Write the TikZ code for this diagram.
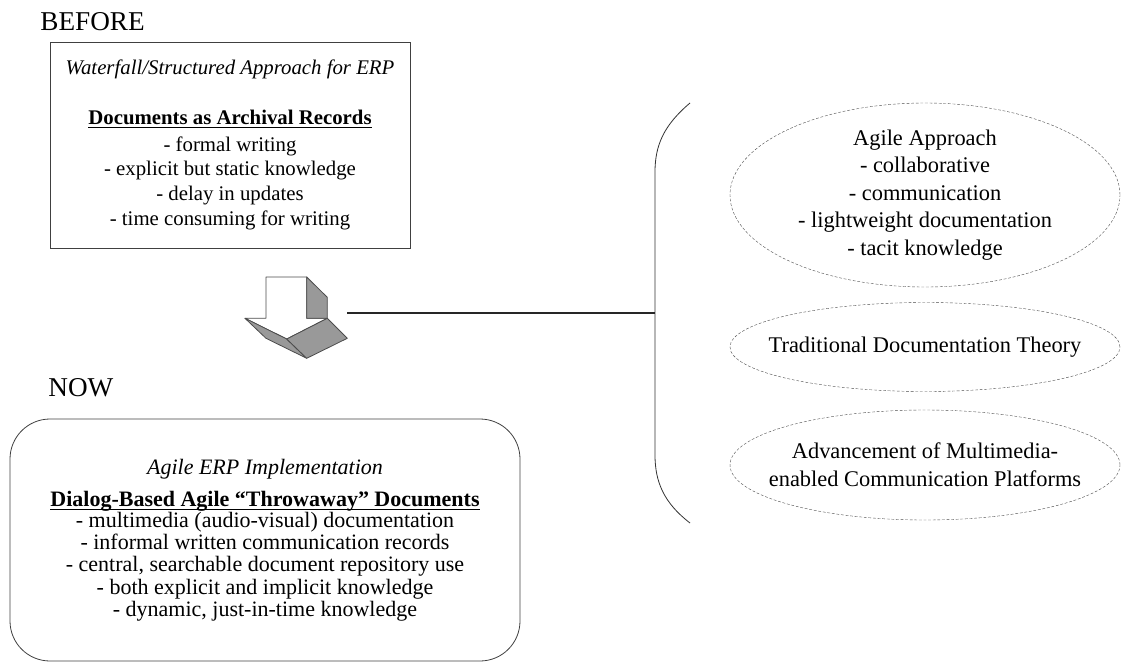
\documentclass[tikz,border=0pt]{standalone}
\usepackage{fontspec}
\setmainfont{Liberation Serif}
\usepackage{tikz}
\usetikzlibrary{shapes.geometric}
\usetikzlibrary{positioning}
% bold heading, underlined through the descenders
\newcommand{\headline}[1]{\underbar{\textbf{#1}}}
\tikzset{
	phase/.style={ % BEFORE / NOW
			anchor=base west,
			inner sep=0pt,
			font=\fontsize{13.6}{15}\selectfont
		},
	oldbox/.style={ % the waterfall box
			draw=black!75,
			thin,
			align=center,
			minimum width=180pt,
			minimum height=103pt,
			font=\fontsize{10.4}{12.35}\selectfont
		},
	newbox/.style={ % the agile box
			draw=black!75,
			thin,
			rounded corners=20pt,
			align=center,
			minimum width=255pt,
			minimum height=121pt,
			font=\fontsize{11}{11.1}\selectfont
		},
	driver/.style={ % dashed ellipses
			ellipse,
			draw=black!70,
			very thin,
			dash pattern=on 1.4pt off 0.9pt,
			align=center,
			inner xsep=-30pt,
			inner ysep=-4pt,
			minimum width=195pt,
			font=\fontsize{11.2}{13.8}\selectfont
		},
	fold/.style={
			draw=black!70,
			thin,
			line join=round
		}
}
\begin{document}
\begin{tikzpicture}[x=0.5pt,y=-0.5pt]
	\useasboundingbox (0,0) rectangle (1125,665);
	% before
	\node[phase] (before) at (40,30) {BEFORE};
	\node[oldbox] (waterfall) at (230,145) {\textit{Waterfall/Structured Approach for ERP}\\[12.35pt]
		\headline{Documents as Archival Records}\\[1pt]
		- formal writing\\
		- explicit but static knowledge\\
		- delay in updates\\
		- time consuming for writing};
	% the folded arrow
	\draw[fold, fill=white] (266,277) -- (306.7,277) -- (306.7,318.3) -- (327.3,318.3)
		-- (286.7,339) -- (245,318.3) -- (266,318.3) -- cycle;
	\draw[fold, fill=black!40] (306.7,277) -- (327.3,297.3) -- (327.3,318.3) -- (306.7,318.3) -- cycle;
	\draw[fold, fill=black!40] (245,318.3) -- (286.7,339) -- (306.7,358.3) -- (266,338.3) -- cycle;
	\draw[fold, fill=black!40] (286.7,339) -- (327.3,318.3) -- (347.3,338.3) -- (306.7,358.3) -- cycle;
	\coordinate (arrowtip) at (347,313);
	% now
	\node[phase] (now) at (48,396) {NOW};
	\node[newbox] (agileerp) at (265,540) {\textit{Agile ERP Implementation}\\[5pt]
		\headline{Dialog-Based Agile “Throwaway” Documents}\\[-0.5pt]
		- multimedia (audio-visual) documentation\\
		- informal written communication records\\
		- central, searchable document repository use\\
		- both explicit and implicit knowledge\\
		- dynamic, just-in-time knowledge};
	% the three drivers
	\node[driver, minimum height=92pt] (agile) at (925,195) {Agile Approach\\
		- collaborative\\
		- communication\\
		- lightweight documentation\\
		- tacit knowledge};
	\node[driver, minimum height=44.5pt] (tradition) at (925,347) {Traditional Documentation Theory};
	\node[driver, minimum height=55pt] (multimedia) at (925,465) {Advancement of Multimedia-\\
		enabled Communication Platforms};
	% brace
	\coordinate (bracemid) at (655,313);
	\draw[black!80, thin] (690,103) .. controls (664,125) and (655,145) .. (655,172)
		-- (655,455) .. controls (655,482) and (664,503) .. (690,523);
	\draw[black!85, semithick] (arrowtip) -- (bracemid);
\end{tikzpicture}
\end{document}
